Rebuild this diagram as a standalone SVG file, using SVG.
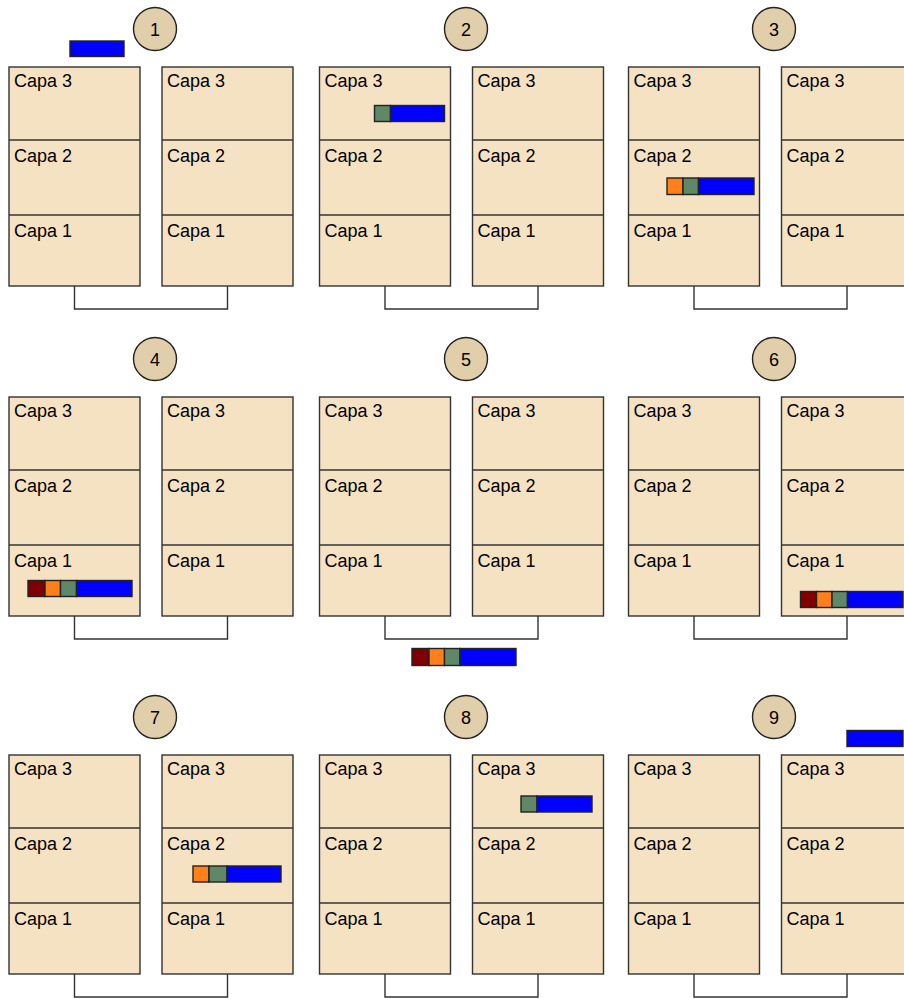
<svg xmlns="http://www.w3.org/2000/svg" width="904" height="999" viewBox="0 0 904 999">
<style>
.box{fill:#F5E2C3;stroke:#333;stroke-width:1.4}
.sep{stroke:#333;stroke-width:1.4}
.lbl{font-family:"Liberation Sans",Arial,sans-serif;font-size:18px;fill:#000}
.num{font-family:"Liberation Sans",Arial,sans-serif;font-size:18px;fill:#000;text-anchor:middle}
.circ{fill:#E1CEAA;stroke:#222;stroke-width:1.4}
.con{fill:none;stroke:#333;stroke-width:1.4}
.pk{stroke:#222;stroke-width:1.4}
.r{fill:#800000}.o{fill:#FF7F1A}.g{fill:#5E8866}.b{fill:#0000FF}
</style>
<defs>
<g id="stack">
<rect class="box" x="0" y="0" width="131" height="219"/>
<line class="sep" x1="0" y1="73" x2="131" y2="73"/>
<line class="sep" x1="0" y1="148" x2="131" y2="148"/>
<text class="lbl" x="5" y="20">Capa 3</text>
<text class="lbl" x="5" y="95">Capa 2</text>
<text class="lbl" x="5" y="170">Capa 1</text>
</g>
</defs>
<g id="connectors">
<path class="con" d="M74.5,286 V309 H227.5 V286"/>
<path class="con" d="M385,286 V309 H538 V286"/>
<path class="con" d="M694,286 V309 H847 V286"/>
<path class="con" d="M74.5,616 V639 H227.5 V616"/>
<path class="con" d="M385,616 V639 H538 V616"/>
<path class="con" d="M694,616 V639 H847 V616"/>
<path class="con" d="M74.5,974 V997 H227.5 V974"/>
<path class="con" d="M385,974 V997 H538 V974"/>
<path class="con" d="M694,974 V997 H847 V974"/>
</g>
<g id="panel1">
<circle class="circ" cx="155" cy="29" r="21.5"/><text class="num" x="155" y="35.5">1</text>
<use href="#stack" x="9" y="67"/><use href="#stack" x="162" y="67"/>
<rect class="pk b" x="70" y="41" width="54" height="15.5"/>
</g>
<g id="panel2">
<circle class="circ" cx="466" cy="29" r="21.5"/><text class="num" x="466" y="35.5">2</text>
<use href="#stack" x="319.5" y="67"/><use href="#stack" x="472.5" y="67"/>
<rect class="pk g" x="374.5" y="105.5" width="16" height="16"/>
<rect class="pk b" x="390.5" y="105.5" width="54" height="16"/>
</g>
<g id="panel3">
<circle class="circ" cx="774" cy="29" r="21.5"/><text class="num" x="774" y="35.5">3</text>
<use href="#stack" x="628.5" y="67"/><use href="#stack" x="781.5" y="67"/>
<rect class="pk o" x="667" y="178" width="16" height="16.5"/>
<rect class="pk g" x="683" y="178" width="15.5" height="16.5"/>
<rect class="pk b" x="698.5" y="178" width="55.5" height="16.5"/>
</g>
<g id="panel4">
<circle class="circ" cx="155" cy="359" r="21.5"/><text class="num" x="155" y="365.5">4</text>
<use href="#stack" x="9" y="397"/><use href="#stack" x="162" y="397"/>
<rect class="pk r" x="28" y="580.5" width="17" height="16"/>
<rect class="pk o" x="45" y="580.5" width="15.5" height="16"/>
<rect class="pk g" x="60.5" y="580.5" width="16" height="16"/>
<rect class="pk b" x="76.5" y="580.5" width="55.5" height="16"/>
</g>
<g id="panel5">
<circle class="circ" cx="466" cy="359" r="21.5"/><text class="num" x="466" y="365.5">5</text>
<use href="#stack" x="319.5" y="397"/><use href="#stack" x="472.5" y="397"/>
<rect class="pk r" x="412" y="648.5" width="17" height="17"/>
<rect class="pk o" x="429" y="648.5" width="15.5" height="17"/>
<rect class="pk g" x="444.5" y="648.5" width="15.5" height="17"/>
<rect class="pk b" x="460" y="648.5" width="56" height="17"/>
</g>
<g id="panel6">
<circle class="circ" cx="774" cy="359" r="21.5"/><text class="num" x="774" y="365.5">6</text>
<use href="#stack" x="628.5" y="397"/><use href="#stack" x="781.5" y="397"/>
<rect class="pk r" x="800.5" y="591.5" width="16" height="16"/>
<rect class="pk o" x="816.5" y="591.5" width="15.5" height="16"/>
<rect class="pk g" x="832" y="591.5" width="15.5" height="16"/>
<rect class="pk b" x="847.5" y="591.5" width="55.5" height="16"/>
</g>
<g id="panel7">
<circle class="circ" cx="155" cy="717" r="21.5"/><text class="num" x="155" y="723.5">7</text>
<use href="#stack" x="9" y="755"/><use href="#stack" x="162" y="755"/>
<rect class="pk o" x="193" y="866" width="16" height="16"/>
<rect class="pk g" x="209" y="866" width="18" height="16"/>
<rect class="pk b" x="227" y="866" width="54" height="16"/>
</g>
<g id="panel8">
<circle class="circ" cx="466" cy="717" r="21.5"/><text class="num" x="466" y="723.5">8</text>
<use href="#stack" x="319.5" y="755"/><use href="#stack" x="472.5" y="755"/>
<rect class="pk g" x="521" y="796" width="16" height="16"/>
<rect class="pk b" x="537" y="796" width="55" height="16"/>
</g>
<g id="panel9">
<circle class="circ" cx="774" cy="717" r="21.5"/><text class="num" x="774" y="723.5">9</text>
<use href="#stack" x="628.5" y="755"/><use href="#stack" x="781.5" y="755"/>
<rect class="pk b" x="847" y="730.5" width="56" height="16"/>
</g>
</svg>
